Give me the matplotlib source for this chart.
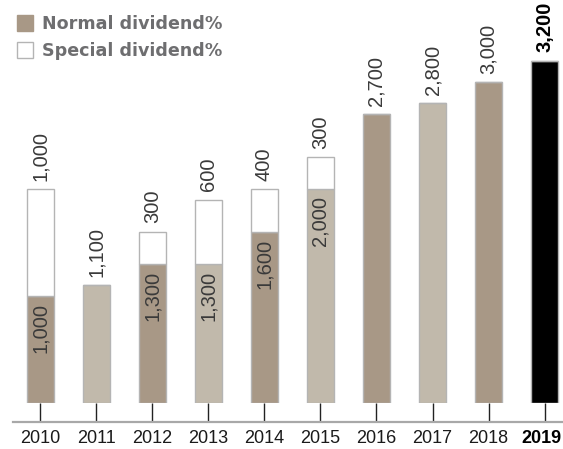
import matplotlib.pyplot as plt
import numpy as np
from matplotlib.lines import Line2D

# data
years = ['2010', '2011', '2012', '2013', '2014', '2015', '2016', '2017', '2018', '2019']
normal = [1000, 1100, 1300, 1300, 1600, 2000, 2700, 2800, 3000, 3200]
special = [1000, 0, 300, 600, 400, 300, 0, 0, 0, 0]

dark = '#a89886'
light = '#c1b9ab'
edge = '#b4b4b4'
bar_colors = [dark, light] * 4 + [dark, 'black']
label_font = 'Liberation Sans'

fig = plt.figure(figsize=(5.63, 4.49), dpi=100)
ax = fig.add_axes([13 / 563, 46 / 449, 550 / 563, 403 / 449])

x = np.arange(len(years))
ax.bar(x, normal, width=0.48, color=bar_colors, edgecolor=edge, linewidth=1)
ax.bar(x, special, width=0.48, bottom=normal, color='white', edgecolor=edge, linewidth=1)

# value labels
last = len(years) - 1
for i in range(len(years)):
    if special[i] > 0:
        ax.annotate(f'{normal[i]:,}', (x[i], normal[i]), xytext=(0, -5),
                    textcoords='offset points', rotation=90, ha='center', va='top',
                    fontsize=14.5, color='#3a3a3a', family=label_font)
        ax.annotate(f'{special[i]:,}', (x[i], normal[i] + special[i]), xytext=(0, 6),
                    textcoords='offset points', rotation=90, ha='center', va='bottom',
                    fontsize=14.5, color='#3a3a3a', family=label_font)
    else:
        ax.annotate(f'{normal[i]:,}', (x[i], normal[i]), xytext=(0, 6),
                    textcoords='offset points', rotation=90, ha='center', va='bottom',
                    fontsize=14.5, color='black' if i == last else '#3a3a3a',
                    family=label_font, fontweight='bold' if i == last else 'normal')

# year labels under the axis line
for i, yr in enumerate(years):
    ax.annotate(yr, (x[i], 0), xycoords=('data', 'axes fraction'),
                xytext=(-2.5 if i == last else 0, -19.5),
                textcoords='offset points', ha='center', va='top', fontsize=13,
                family=label_font, color='black' if i == last else '#1a1a1a',
                fontweight='bold' if i == last else 'normal', annotation_clip=False)

ax.set_xlim(-0.49, 9.33)
ax.set_ylim(0, 3766)
ax.set_xticks(x)
ax.set_yticks([])

for s in ['top', 'right', 'left']:
    ax.spines[s].set_visible(False)
ax.spines['bottom'].set_position(('outward', 13.7))
ax.spines['bottom'].set_color('#a8a8a8')
ax.spines['bottom'].set_linewidth(1.6)
ax.tick_params(axis='x', direction='in', length=13.7, width=1, color='#222222',
               labelbottom=False)

# legend
handles = [
    Line2D([], [], marker='s', linestyle='none', markersize=11,
           markerfacecolor=dark, markeredgecolor=dark),
    Line2D([], [], marker='s', linestyle='none', markersize=11,
           markerfacecolor='white', markeredgecolor=edge),
]
leg = fig.legend(handles, ['Normal dividend%', 'Special dividend%'],
                 loc='upper left', bbox_to_anchor=(0.0, 1.0), frameon=False,
                 handletextpad=0.45, handlelength=1.1, labelspacing=0.5,
                 borderaxespad=0.55, borderpad=0.3,
                 prop={'family': 'DejaVu Sans', 'weight': 'bold', 'size': 12.6})
for t in leg.get_texts():
    t.set_color('#6e6e70')

fig.savefig('out.png', dpi=100)
